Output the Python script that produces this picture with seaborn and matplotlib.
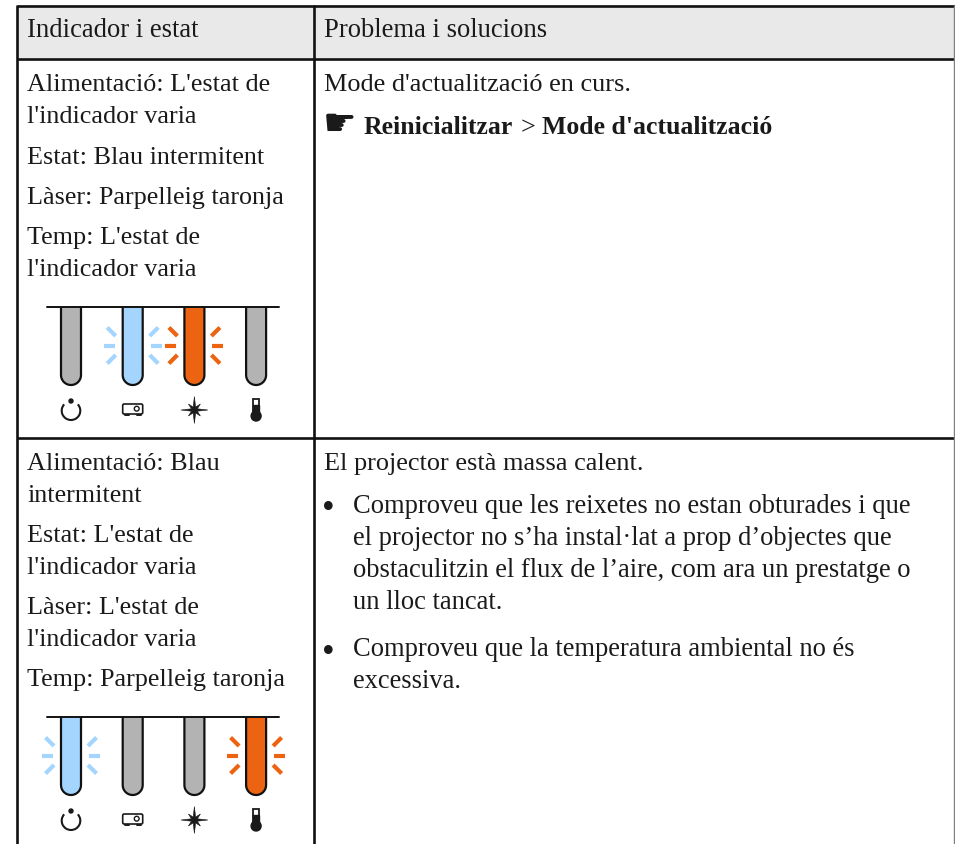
import matplotlib
matplotlib.use("Agg")
import matplotlib.pyplot as plt
import numpy as np
import seaborn as sns
from matplotlib.patches import Circle, Polygon, Rectangle, FancyBboxPatch, Arc

# contingut de la taula
capcaleres = ["Indicador i estat", "Problema i solucions"]
fila1_esq = ["Alimentació: L'estat de", "l'indicador varia", "Estat: Blau intermitent",
             "Làser: Parpelleig taronja", "Temp: L'estat de", "l'indicador varia"]
fila2_esq = ["Alimentació: Blau", "intermitent", "Estat: L'estat de", "l'indicador varia",
             "Làser: L'estat de", "l'indicador varia", "Temp: Parpelleig taronja"]
fila1_dreta = "Mode d'actualització en curs."
cami_menu = ["Reinicialitzar", ">", "Mode d'actualització"]
fila2_dreta = "El projector està massa calent."
punt1 = ["Comproveu que les reixetes no estan obturades i que",
         "el projector no s’ha instal·lat a prop d’objectes que",
         "obstaculitzin el flux de l’aire, com ara un prestatge o",
         "un lloc tancat."]
punt2 = ["Comproveu que la temperatura ambiental no és", "excessiva."]

# estat dels quatre indicadors: g = gris, b = blau, o = taronja
estat1 = ["g", "b", "o", "g"]
estat2 = ["b", "g", "g", "o"]
colors = {"g": "#b3b3b3", "b": "#a3d5ff", "o": "#ec6412"}
raigs = {"g": None, "b": "#a3d5ff", "o": "#ec6412"}

sns.set_theme(style="white")
plt.rcParams["font.family"] = ["Liberation Serif", "DejaVu Sans"]

fig = plt.figure(figsize=(9.55, 8.44), dpi=100)
ax = fig.add_axes([0, 0, 1, 1])
ax.set_xlim(0, 955)
ax.set_ylim(844, 0)
ax.axis("off")

FS = 18.9
NEGRE = "#1a1a1a"


def linies(x, ys, textos, mida=FS):
    for y, t in zip(ys, textos):
        ax.text(x, y, t, fontsize=mida, color=NEGRE, va="baseline", ha="left")


def tub(cx, dalt, baix, color):
    r = 10
    t = np.linspace(np.pi, 0, 40)
    xs = np.r_[cx - r, cx + r * np.cos(t), cx + r]
    ys = np.r_[dalt, baix - r + r * np.sin(t), dalt]
    ax.add_patch(Polygon(np.c_[xs, ys], closed=False, fc=color, ec="#111111", lw=1.6, zorder=3))


def raig(cx, cy, color):
    for s in (-1, 1):
        ax.plot([cx + s * 18, cx + s * 29], [cy, cy], color=color, lw=3, solid_capstyle="butt")
        for v in (-1, 1):
            ax.plot([cx + s * 17, cx + s * 25.5], [cy + v * 9.5, cy + v * 18], color=color, lw=3,
                    solid_capstyle="butt")


def icones(xs, y):
    # alimentacio
    ax.add_patch(Arc((xs[0], y + 0.7), 18.6, 18.6, theta1=-43, theta2=223, color=NEGRE, lw=1.5))
    ax.add_patch(Circle((xs[0], y - 9), 2, color=NEGRE))
    # projector
    ax.add_patch(FancyBboxPatch((xs[1] - 10, y - 6), 20, 10, boxstyle="round,pad=0,rounding_size=1.5",
                                fc="white", ec=NEGRE, lw=1.2))
    ax.add_patch(Circle((xs[1] + 4, y - 1.3), 2.4, fc="white", ec=NEGRE, lw=1))
    for d in (-6, 6):
        ax.plot([xs[1] + d - 2, xs[1] + d + 2], [y + 5.2, y + 5.2], color=NEGRE, lw=1.4)
    # laser
    a = np.deg2rad(np.arange(0, 360, 22.5))
    r = np.tile([13.5, 3.2, 8.5, 3.2], 4)
    ax.add_patch(Polygon(np.c_[xs[2] + r * np.cos(a), y + r * np.sin(a)], fc=NEGRE, ec=NEGRE, lw=0.4))
    # temperatura
    ax.add_patch(Rectangle((xs[3] - 2.8, y - 11.5), 5.6, 16, fc="white", ec=NEGRE, lw=1.3))
    ax.add_patch(Rectangle((xs[3] - 2.8, y - 5), 5.6, 10, fc=NEGRE, ec=NEGRE, lw=1))
    ax.add_patch(Circle((xs[3], y + 6), 5, color=NEGRE))


def panell(estat, dalt):
    xs = [71 + i * 61.7 for i in range(4)]
    cy = dalt + 38.5
    for cx, e in zip(xs, estat):
        if raigs[e]:
            raig(cx, cy, raigs[e])
    for cx, e in zip(xs, estat):
        tub(cx, dalt, dalt + 78, colors[e])
    ax.plot([47, 279], [dalt, dalt], color="#111111", lw=1.4, zorder=4)
    icones(xs, dalt + 103)


# fons de la capcalera i graella
ax.add_patch(Rectangle((17, 5), 937, 53, fc="#e9e9e9", ec="none", zorder=0))
for y in (5.5, 58.8, 437.5):
    ax.plot([17, 955], [y, y], color="#111111", lw=1.9, solid_capstyle="butt")
for x in (17, 313.5):
    ax.plot([x, x], [5, 844], color="#111111", lw=1.9, solid_capstyle="butt")
ax.plot([954.3, 954.3], [5, 844], color="#808080", lw=1, solid_capstyle="butt")

ax.text(27, 37, capcaleres[0], fontsize=19.2, color=NEGRE)
ax.text(324, 37, capcaleres[1], fontsize=19.2, color=NEGRE)

linies(27, [91, 123, 164, 204, 244, 276], fila1_esq, 18.8)
linies(27, [470, 502, 542, 574, 614, 646, 686], fila2_esq, 18.8)

linies(324, [91], [fila1_dreta])
ax.text(323, 135, "\u261b", fontsize=27, color=NEGRE, family="DejaVu Sans", va="baseline")
ax.text(364, 134, cami_menu[0], fontsize=18.5, color=NEGRE, weight="bold")
ax.text(521, 134, cami_menu[1], fontsize=FS, color=NEGRE)
ax.text(542, 134, cami_menu[2], fontsize=18.5, color=NEGRE, weight="bold")

linies(324, [470], [fila2_dreta])
ax.text(321.5, 518, "\u2022", fontsize=26, color=NEGRE)
linies(353, [513, 545, 577, 609], punt1, 19.1)
ax.text(321.5, 662, "\u2022", fontsize=26, color=NEGRE)
linies(353, [656, 688], punt2, 19.1)

panell(estat1, 307)
panell(estat2, 717)

fig.savefig("out.png", dpi=100, facecolor="white")
